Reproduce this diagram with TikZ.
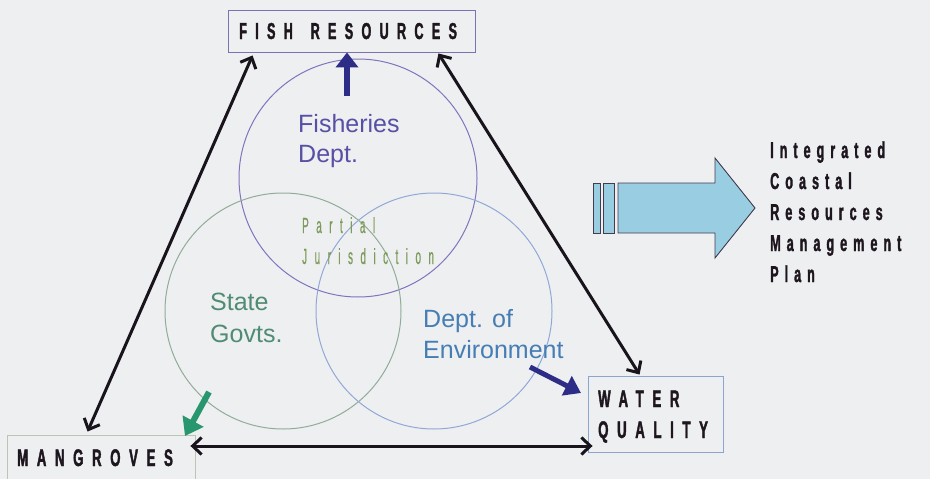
\documentclass[tikz,border=0pt]{standalone}
\usepackage{fontspec}
\setmainfont{Liberation Sans}
\usetikzlibrary{arrows.meta,calc}
% condensed, letter-spaced faces for the box labels
\newfontfamily\capsfont[FakeStretch=0.55,FakeBold=1.6,LetterSpace=36]{Liberation Sans Bold}
\newfontfamily\planfont[FakeStretch=0.55,FakeBold=1.4,LetterSpace=26]{Liberation Sans Bold}
\newfontfamily\thinfont[FakeStretch=0.45,FakeBold=0.5,LetterSpace=34]{Liberation Sans}
\definecolor{bgc}{RGB}{238,239,241}
\definecolor{fishtxt}{RGB}{88,80,165}
\definecolor{fishring}{RGB}{130,115,190}
\definecolor{statetxt}{RGB}{80,140,115}
\definecolor{statering}{RGB}{145,172,152}
\definecolor{envtxt}{RGB}{70,125,180}
\definecolor{envring}{RGB}{145,168,215}
\definecolor{partialtxt}{RGB}{125,155,90}
\definecolor{navyarrow}{RGB}{45,45,135}
\definecolor{greenarrow}{RGB}{40,150,110}
\definecolor{darkline}{RGB}{25,20,28}
\definecolor{inktxt}{RGB}{30,22,30}
\definecolor{planfill}{RGB}{152,205,226}
\definecolor{planedge}{RGB}{70,60,80}
\definecolor{boxpurple}{RGB}{128,112,178}
\definecolor{boxgrey}{RGB}{190,196,180}
\definecolor{boxblue}{RGB}{140,165,208}
\tikzset{
  labelbox/.style={draw, line width=0.9pt, inner sep=0pt},
  ring/.style={line width=1pt},
  link/.style={draw=darkline, line width=3pt,
    {Straight Barb[length=9pt,width=17pt,line width=3pt]}-{Straight Barb[length=9pt,width=17pt,line width=3pt]}},
  pointer/.style={line width=6pt, -{Triangle[length=15pt,width=22pt]}},
  sans/.style={font=\fontsize{25}{31}\selectfont, inner sep=0pt, align=left},
  capstext/.style={anchor=base west, inner sep=0pt, text=inktxt,
    font=\capsfont\fontsize{24}{24}\selectfont},
}
\begin{document}
\begin{tikzpicture}[x=1pt,y=-1pt]
  % canvas
  \fill[bgc] (0,0) rectangle (930,479);
  \useasboundingbox (0,0) rectangle (930,479);

  % three overlapping jurisdictions
  \draw[ring, fishring] (358,178) circle[radius=119];
  \draw[ring, statering] (283,311) circle[radius=118];
  \draw[ring, envring] (434,311) circle[radius=118];

  % the three resources
  \node[labelbox, draw=boxpurple, minimum width=247, minimum height=42] (fish) at (351.5,31) {};
  \node[capstext, font=\capsfont\fontsize{23}{23}\selectfont] (fisht) at (239,39) {FISH\hspace{6pt} RESOURCES};
  \node[labelbox, draw=boxgrey, minimum width=188, minimum height=44] (mg) at (101,457) {};
  \node[capstext] (mgt) at (17,466) {MANGROVES};
  \node[labelbox, draw=boxblue, minimum width=135, minimum height=76] (wq) at (655.5,414) {};
  \node[capstext] (wq1) at (598,407) {WATER};
  \node[capstext] (wq2) at (598,438) {QUALITY};

  % links between resources
  \draw[link] ([xshift=81pt,yshift=3pt]mg.north west) -- ([xshift=25pt,yshift=-3pt]fish.south west);
  \draw[link] ([xshift=-37pt,yshift=-1pt]fish.south east) -- ([xshift=52pt,yshift=1pt]wq.north west);
  \draw[link] ([xshift=-5pt,yshift=11pt]mg.east) -- ([xshift=5pt,yshift=-32pt]wq.west);

  % agency labels
  \node[sans, text=fishtxt, anchor=base west] (fd) at (298,132) {Fisheries};
  \node[sans, text=fishtxt, anchor=base west] (fd2) at (298,162) {Dept.};
  \node[sans, text=statetxt, anchor=base west] (sg) at (210,310) {State};
  \node[sans, text=statetxt, anchor=base west] (sg2) at (210,342) {Govts.};
  \node[sans, text=envtxt, anchor=base west] (de) at (423,327) {Dept. of};
  \node[sans, text=envtxt, anchor=base west] (de2) at (423,358) {Environment};
  \node[anchor=base west, inner sep=0pt, text=partialtxt, font=\thinfont\fontsize{22}{22}\selectfont] (pj) at (302,233) {Partial};
  \node[anchor=base west, inner sep=0pt, text=partialtxt, font=\thinfont\fontsize{22}{22}\selectfont] (pj2) at (302,264) {Jurisdiction};

  % agency pointers
  \coordinate (fdtail) at (347,96);
  \coordinate (sgtail) at (209,392);
  \coordinate (sgtip) at (185,436);
  \coordinate (detail) at (530,367);
  \coordinate (detip) at (581,393);
  \draw[pointer, navyarrow] (fdtail) -- ([xshift=-4.5pt]fish.south);
  \draw[pointer, greenarrow, line width=6pt, -{Triangle[length=17pt,width=23pt]}] (sgtail) -- (sgtip);
  \draw[pointer, navyarrow, line width=5pt, -{Triangle[length=16pt,width=21pt]}] (detail) -- (detip);

  % outcome arrow
  \begin{scope}[draw=planedge, fill=planfill, line width=0.9pt]
    \filldraw (593,183) rectangle (600,233);
    \filldraw (603,183) rectangle (614,233);
    \filldraw (618,183) -- (715,183) -- (715,158) -- (755,208) -- (715,258) -- (715,233) -- (618,233) -- cycle;
  \end{scope}
  \node[anchor=base west, inner sep=0pt, align=left, text=inktxt,
        font=\planfont\fontsize{23}{31}\selectfont] (plan) at (770,282)
    {Integrated\\Coastal\\Resources\\Management\\Plan};
\end{tikzpicture}
\end{document}
